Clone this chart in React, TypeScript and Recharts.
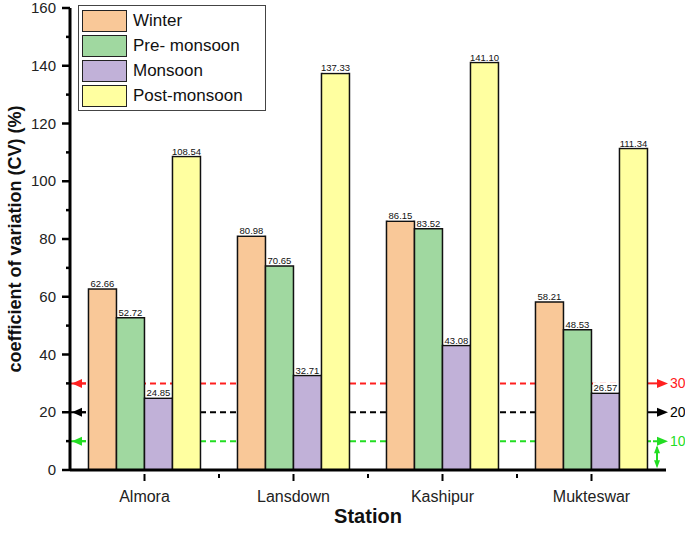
import React from "react";
import {
  BarChart,
  Bar,
  XAxis,
  YAxis,
  LabelList,
  ReferenceLine,
} from "recharts";

const stations = ["Almora", "Lansdown", "Kashipur", "Mukteswar"];
const winter = [62.66, 80.98, 86.15, 58.21];
const preMonsoon = [52.72, 70.65, 83.52, 48.53];
const monsoon = [24.85, 32.71, 43.08, 26.57];
const postMonsoon = [108.54, 137.33, 141.1, 111.34];
const yTicks = [0, 10, 20, 30, 40, 50, 60, 70, 80, 90, 100, 110, 120, 130, 140, 150, 160];

const series = [
  { key: "winter", name: "Winter", color: "#F9C898" },
  { key: "pre", name: "Pre- monsoon", color: "#A0D8A0" },
  { key: "monsoon", name: "Monsoon", color: "#C1B1D8" },
  { key: "post", name: "Post-monsoon", color: "#FFFFA0" },
];

const data = stations.map((s, i) => ({
  station: s,
  winter: winter[i],
  pre: preMonsoon[i],
  monsoon: monsoon[i],
  post: postMonsoon[i],
}));

const FONT = "Liberation Sans, Arial, sans-serif";
const W = 685;
const H = 533;
const margin = { top: 8, right: 19, left: 0, bottom: 3 };
const Y_W = 70;
const plotW = W - margin.left - margin.right - Y_W;
const band = plotW / stations.length;

const YTick = (props: any) => {
  const { x, y, payload } = props;
  const ax = x + 12;
  const major = payload.value % 20 === 0;
  return (
    <g>
      <line x1={major ? ax - 8 : ax - 4} x2={ax} y1={y} y2={y} stroke="#000" strokeWidth={2.5} />
      {major && (
        <text x={ax - 14} y={y} dy={5} textAnchor="end" fontSize={15} fontFamily={FONT} fill="#222">
          {payload.value}
        </text>
      )}
    </g>
  );
};

const XTick = (props: any) => {
  const { x, y, payload, index } = props;
  const ay = y - 4;
  return (
    <g>
      <line x1={x} x2={x} y1={ay} y2={ay + 7} stroke="#000" strokeWidth={2} />
      {index < stations.length - 1 && (
        <line x1={x + band / 2} x2={x + band / 2} y1={ay} y2={ay + 4} stroke="#000" strokeWidth={2} />
      )}
      <text x={x} y={ay + 28} textAnchor="middle" fontSize={16} fontFamily={FONT} fill="#222">
        {payload.value}
      </text>
    </g>
  );
};

const ValueLabel = (props: any) => {
  const { x, y, width, value } = props;
  return (
    <g>
      <rect x={x + 1.5} y={y - 11} width={width - 3} height={10} fill="#fff" />
      <text x={x + width / 2} y={y - 2} textAnchor="middle" fontSize={9.5} fontFamily={FONT} fill="#111">
        {Number(value).toFixed(2)}
      </text>
    </g>
  );
};

const refMark = (color: string, text: string, vertical: boolean) => (props: any) => {
  const { viewBox } = props;
  const { x, y, width } = viewBox;
  const r = x + width;
  return (
    <g>
      <polygon points={`${x + 2},${y} ${x + 12},${y - 4.5} ${x + 12},${y + 4.5}`} fill={color} />
      <line x1={x + 12} x2={x + 16} y1={y} y2={y} stroke={color} strokeWidth={2} />
      <rect x={r - 19} y={y - 3} width={19} height={6} fill="#fff" />
      <line
        x1={r - 19}
        x2={r - 8}
        y1={y}
        y2={y}
        stroke={color}
        strokeWidth={2}
        strokeDasharray={vertical ? "4 2" : undefined}
      />
      <polygon points={`${r + 2},${y} ${r - 9},${y - 4.5} ${r - 9},${y + 4.5}`} fill={color} />
      <text x={r + 4} y={y} dy={5} fontSize={14} fontFamily={FONT} fill={color}>
        {text}
      </text>
      {vertical && (
        <g>
          <line x1={r - 9} x2={r - 9} y1={y + 6} y2={y + 25} stroke={color} strokeWidth={2} />
          <polygon points={`${r - 9},${y + 4} ${r - 12},${y + 12} ${r - 6},${y + 12}`} fill={color} />
          <polygon points={`${r - 9},${y + 27} ${r - 12},${y + 19} ${r - 6},${y + 19}`} fill={color} />
        </g>
      )}
    </g>
  );
};

const LegendBox = () => (
  <div
    style={{
      position: "absolute",
      top: 5,
      left: 78,
      border: "1px solid #444",
      padding: "2px 3px",
      background: "#fff",
      fontFamily: FONT,
      width: 180,
    }}
  >
    {series.map((s) => (
      <div key={s.key} style={{ display: "flex", alignItems: "center", height: 25 }}>
        <div
          style={{
            width: 43,
            height: 20,
            background: s.color,
            border: "1.5px solid #222",
            marginRight: 6,
          }}
        />
        <span style={{ fontSize: 17, color: "#111" }}>{s.name}</span>
      </div>
    ))}
  </div>
);

export default function App() {
  return (
    <div style={{ position: "absolute", left: 0, top: 0, width: W, height: H, background: "#fff" }}>
      <BarChart
        width={W}
        height={H}
        data={data}
        margin={margin}
        barGap={0}
        barCategoryGap="12.4%"
      >
        <XAxis
          dataKey="station"
          height={60}
          axisLine={{ stroke: "#000", strokeWidth: 3 }}
          tickLine={false}
          tick={<XTick />}
          label={{
            value: "Station",
            position: "insideBottom",
            offset: 7,
            style: { fontSize: 20, fontWeight: "bold", fontFamily: FONT, fill: "#111" },
          }}
        />
        <YAxis
          width={Y_W}
          domain={[0, 160]}
          ticks={yTicks}
          interval={0}
          tickSize={8}
          tickMargin={4}
          axisLine={{ stroke: "#000", strokeWidth: 3 }}
          tickLine={false}
          tick={<YTick />}
          label={{
            content: (p: any) => {
              const { viewBox } = p;
              const cy = viewBox.y + viewBox.height / 2;
              return (
                <text
                  x={21}
                  y={cy}
                  transform={`rotate(-90 21 ${cy})`}
                  textAnchor="middle"
                  fontSize={18}
                  fontWeight="bold"
                  fontFamily={FONT}
                  fill="#111"
                >
                  coefficient of variation (CV) (%)
                </text>
              );
            },
          }}
        />
        <ReferenceLine y={30} zIndex={100} stroke="#FF2020" strokeWidth={2} strokeDasharray="6 4" label={refMark("#FF2020", "30", false)} />
        <ReferenceLine y={20} zIndex={100} stroke="#000" strokeWidth={2} strokeDasharray="6 4" label={refMark("#000", "20", false)} />
        <ReferenceLine y={10} zIndex={100} stroke="#22DD22" strokeWidth={2} strokeDasharray="6 4" label={refMark("#22DD22", "10", true)} />
        {series.map((s) => (
          <Bar
            key={s.key}
            dataKey={s.key}
            name={s.name}
            fill={s.color}
            stroke="#111"
            strokeWidth={1.5}
            isAnimationActive={false}
          >
            <LabelList dataKey={s.key} content={<ValueLabel />} />
          </Bar>
        ))}
      </BarChart>
      <LegendBox />
    </div>
  );
}
